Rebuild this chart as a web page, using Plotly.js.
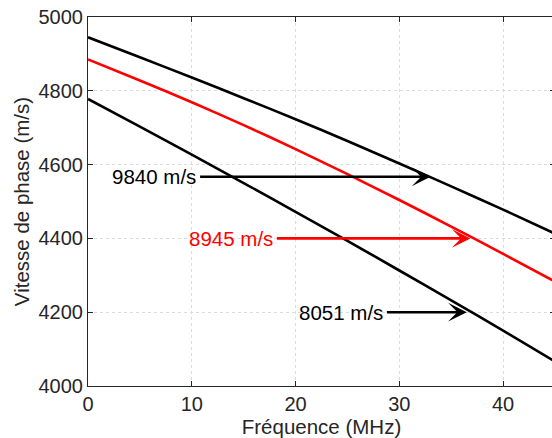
<!DOCTYPE html>
<html>
<head>
<meta charset="utf-8">
<script src="https://cdn.plot.ly/plotly-3.0.1.min.js"></script>
<style>
html, body { margin: 0; padding: 0; overflow: hidden; background: #fff; }
#chart { width: 560px; height: 438px; }
</style>
</head>
<body>
<div id="chart"></div>
<script>
// Data
const frequence = [0, 5, 10, 15, 20, 25, 30, 35, 40, 45];
const vitesse9840 = [4945, 4891, 4836, 4780, 4723, 4664, 4603, 4541, 4478, 4413];
const vitesse8945 = [4885, 4828, 4769, 4707, 4642, 4574, 4504, 4432, 4358, 4283];
const vitesse8051 = [4778, 4703, 4627, 4550, 4472, 4393, 4313, 4232, 4150, 4066];

// Annotation labels and arrow positions (data coordinates)
const annoText = ['9840 m/s', '8945 m/s', '8051 m/s'];
const annoTailX = [10.8, 18.2, 28.8];
const annoTipX = [33.0, 36.85, 36.5];
const annoY = [4567, 4400, 4200];
const annoColor = ['#000000', '#ff0000', '#000000'];

const xTicks = [0, 10, 20, 30, 40];
const yTicks = [4000, 4200, 4400, 4600, 4800, 5000];

const FONT = 'Liberation Sans, Arial, sans-serif';

const lineStyle = (c) => ({ color: c, width: 2.6, shape: 'spline', smoothing: 0.8 });

const traces = [
  { x: frequence, y: vitesse9840, mode: 'lines', line: lineStyle('#000000'), name: '9840 m/s' },
  { x: frequence, y: vitesse8945, mode: 'lines', line: lineStyle('#ff0000'), name: '8945 m/s' },
  { x: frequence, y: vitesse8051, mode: 'lines', line: lineStyle('#000000'), name: '8051 m/s' }
];

const annotations = annoText.map((t, i) => ({
  x: annoTipX[i], y: annoY[i], xref: 'x', yref: 'y',
  ax: annoTailX[i], ay: annoY[i], axref: 'x', ayref: 'y',
  text: t, showarrow: true, arrowhead: 3, arrowsize: 1.2, arrowwidth: 2.6,
  arrowcolor: annoColor[i], xanchor: 'right', yanchor: 'middle',
  borderpad: 3, font: { family: FONT, size: 20.5, color: annoColor[i] }
}));

const axisCommon = {
  showline: true, linecolor: '#262626', linewidth: 1, mirror: 'ticks',
  ticks: 'inside', ticklen: 5, tickcolor: '#262626', tickwidth: 1,
  showgrid: true, gridcolor: '#dcdcdc', gridwidth: 1, griddash: 'dot',
  zeroline: false,
  tickfont: { family: FONT, size: 20, color: '#262626' }
};

const layout = {
  width: 560, height: 438,
  margin: { l: 88, r: 5, t: 17, b: 52 },
  paper_bgcolor: '#ffffff', plot_bgcolor: '#ffffff',
  showlegend: false,
  xaxis: Object.assign({}, axisCommon, {
    range: [0, 45], tickvals: xTicks,
    title: { text: 'Fréquence (MHz)', font: { family: FONT, size: 20.5, color: '#262626' }, standoff: 4 }
  }),
  yaxis: Object.assign({}, axisCommon, {
    range: [4000, 5000], tickvals: yTicks,
    title: { text: 'Vitesse de phase (m/s)', font: { family: FONT, size: 20.5, color: '#262626' }, standoff: 3 }
  }),
  annotations: annotations
};

Plotly.newPlot('chart', traces, layout, { displayModeBar: false, staticPlot: true });
</script>
</body>
</html>
